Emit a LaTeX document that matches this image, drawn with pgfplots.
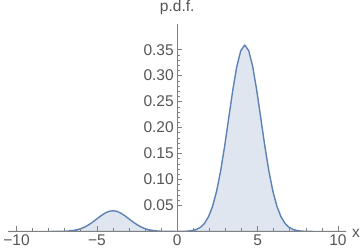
\documentclass[border=0pt]{standalone}
\usepackage{pgfplots}
\pgfplotsset{compat=1.18}
\usepackage{fontspec}
\setmainfont{Liberation Sans}
\definecolor{curve}{RGB}{94,129,181}
\definecolor{axcol}{RGB}{128,128,128}
\definecolor{txt}{RGB}{85,85,85}
\begin{document}
\begin{tikzpicture}
\begin{axis}[
  scale only axis, width=336bp, height=206.8bp,
  xmin=-10.5, xmax=10.5, ymin=0, ymax=0.4,
  axis lines=middle, axis on top,
  axis line style={axcol, line width=0.6pt, -},
  xtick={-10,-5,0,5,10}, xticklabels={−10,−5,0,5,10}, minor x tick num=4,
  ytick={0.05,0.10,0.15,0.20,0.25,0.30,0.35}, minor y tick num=4,
  hide obscured x ticks=false,
  tick align=inside,
  major tick length=5bp, minor tick length=3bp,
  tick style={axcol, line width=0.6pt},
  /pgf/number format/assume math mode=true,
  ticklabel style={font=\fontsize{15.5}{15.5}\selectfont, text=txt},
  yticklabel style={/pgf/number format/fixed, /pgf/number format/precision=2, /pgf/number format/fixed zerofill},
  xlabel={x}, ylabel={p.d.f.},
  label style={font=\fontsize{15.5}{15.5}\selectfont, text=txt},
  xlabel style={at={(axis description cs:1,0)}, anchor=west, inner sep=0pt, xshift=6bp, yshift=-2bp},
  ylabel style={at={(axis description cs:0.5,1)}, anchor=south, inner sep=0pt, yshift=9bp},
]
\addplot[draw=curve, line width=1.4pt, line join=round, fill=curve!20] coordinates {
(-10.5,0) (-8,0) (-7.5,0.0001) (-7.25,0.0002) (-7,0.0004) (-6.75,0.0009) (-6.5,0.0018) (-6.25,0.0032)
(-6,0.0054) (-5.75,0.0086) (-5.5,0.0130) (-5.25,0.0183) (-5,0.0242) (-4.75,0.0301) (-4.5,0.0352)
(-4.25,0.0387) (-4,0.0399) (-3.75,0.0387) (-3.5,0.0352) (-3.25,0.0301) (-3,0.0242) (-2.75,0.0183)
(-2.5,0.0130) (-2.25,0.0086) (-2,0.0054) (-1.75,0.0032) (-1.5,0.0018) (-1.25,0.0009) (-1,0.0004)
(-0.75,0.0002) (-0.5,0.0001) (0,0) (0.2,0.0001) (0.45,0.0003) (0.7,0.0008) (0.95,0.0018) (1.2,0.0040)
(1.45,0.0082) (1.7,0.0158) (1.95,0.0286) (2.2,0.0486) (2.45,0.0776) (2.7,0.1165) (2.95,0.1644)
(3.2,0.2177) (3.45,0.2710) (3.7,0.3168) (3.95,0.3480) (4.2,0.3590) (4.45,0.3480) (4.7,0.3168)
(4.95,0.2710) (5.2,0.2177) (5.45,0.1644) (5.7,0.1165) (5.95,0.0776) (6.2,0.0486) (6.45,0.0286)
(6.7,0.0158) (6.95,0.0082) (7.2,0.0040) (7.45,0.0018) (7.7,0.0008) (7.95,0.0003) (8.2,0.0001)
(8.5,0) (10.5,0)
} \closedcycle;
\end{axis}
\end{tikzpicture}
\end{document}
